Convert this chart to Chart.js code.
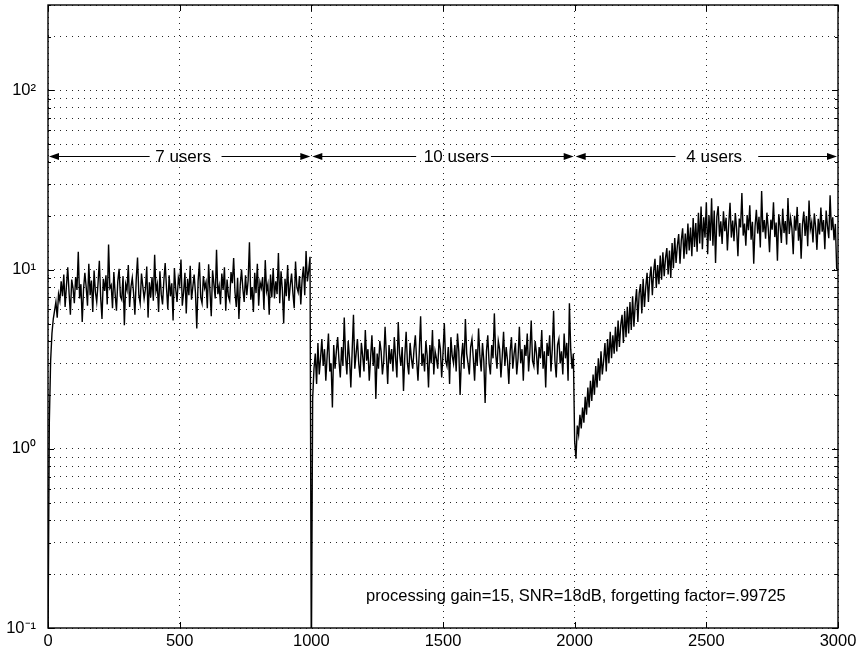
<!DOCTYPE html>
<html>
<head>
<meta charset="utf-8">
<script src="https://cdn.jsdelivr.net/npm/chart.js@4/dist/chart.umd.min.js"></script>
<style>
  html, body { margin: 0; padding: 0; background: #fff; }
  #wrap { width: 862px; height: 654px; position: relative; }
</style>
</head>
<body>
<div id="wrap"><canvas id="c" width="862" height="654"></canvas></div>
<script>
// ---- data (sample spacing of 5 iterations) ----
const SAMPLE_STEP = 5;

// iterations 0..995 : 7 users
const seg7users = [
  0.08,1.4,3.1,4.4,5.3,5.9,6.6,5.4,7.3,6.7,
  8.6,7.1,9.4,6.2,8.1,10.3,7.4,5.6,8.8,7.9,
  6.5,9.1,7.7,12.6,6.9,8.3,5.1,7.8,9.6,8.0,
  6.3,10.8,7.2,8.7,5.8,9.9,7.5,6.6,8.4,11.2,
  7.0,5.3,8.9,7.6,9.3,6.4,13.8,7.9,8.2,6.1,
  9.7,7.3,5.9,8.6,10.1,7.1,6.8,9.2,4.9,8.3,
  7.7,10.6,6.2,8.0,9.0,7.4,5.6,8.8,11.7,7.2,
  6.5,9.5,8.1,6.9,7.8,10.4,5.4,8.5,7.0,9.1,
  6.7,12.1,7.6,8.3,5.8,9.8,7.3,6.4,8.7,10.9,
  7.9,6.0,9.3,7.1,8.4,5.2,10.2,7.8,6.6,9.0,
  8.2,11.4,6.3,7.5,9.6,5.7,8.9,7.2,10.5,6.8,
  8.0,9.4,7.4,4.7,8.6,11.0,7.0,6.5,9.2,7.9,
  8.5,6.1,10.7,7.6,5.5,9.9,8.3,6.9,12.9,7.3,
  8.1,6.4,9.5,7.7,10.3,5.9,8.8,7.1,6.7,9.7,
  8.4,11.6,7.5,6.2,9.0,5.3,8.2,10.0,7.8,6.6,
  9.3,7.2,8.7,14.2,6.8,8.0,5.8,9.6,7.4,10.8,
  6.3,8.5,7.9,9.1,6.0,11.3,7.6,8.3,5.6,9.4,
  7.0,10.2,6.9,8.6,7.3,12.4,6.5,9.8,7.7,5.0,
  8.9,7.1,10.6,6.7,8.2,9.5,7.4,6.1,11.1,8.0,
  7.5,9.2,6.4,8.8,10.4,7.2,12.7,8.6,9.9,11.8
];

// iterations 1000..1995 : 10 users
const seg10users = [
  0.06,1.9,2.8,3.4,2.3,3.9,2.6,3.2,4.1,2.9,
  3.6,2.4,3.3,4.4,2.7,3.0,1.7,3.8,2.8,3.5,
  4.2,3.1,2.5,3.7,2.9,5.4,3.3,2.6,4.0,3.2,
  2.2,3.5,5.6,2.8,3.4,4.1,3.0,2.5,3.9,3.3,
  2.7,4.6,3.1,3.6,2.4,3.2,4.3,2.9,3.7,1.9,
  3.4,2.8,4.0,3.5,2.6,3.1,4.8,3.3,2.3,3.8,
  3.0,3.6,2.7,4.2,3.2,2.5,5.1,3.4,2.9,3.7,
  2.1,3.3,4.5,3.0,2.6,3.9,3.2,2.8,3.6,4.3,
  3.1,2.4,3.5,5.5,2.9,3.4,2.7,4.0,3.3,2.2,
  3.8,3.0,4.6,2.6,3.5,3.2,2.8,4.1,3.6,2.5,
  3.4,5.0,3.1,2.9,3.7,2.3,4.2,3.3,3.0,3.8,
  2.7,4.4,3.5,2.0,3.2,3.9,2.8,5.3,3.4,3.0,
  2.6,3.7,4.1,3.2,2.4,3.6,2.9,4.7,3.3,2.7,
  3.9,3.1,1.8,3.5,4.3,3.0,2.6,3.8,3.2,5.7,
  3.4,2.8,4.0,3.6,2.5,3.3,4.5,2.9,3.7,3.1,
  2.3,3.5,4.2,2.8,3.4,3.9,2.6,3.2,4.8,3.0,
  3.6,2.4,3.8,3.3,4.4,2.7,3.5,5.2,3.1,2.9,
  4.0,3.4,2.6,3.7,3.2,4.6,2.8,3.5,2.2,3.9,
  3.3,4.3,2.7,3.6,5.9,3.1,2.5,3.8,4.1,3.0,
  3.5,2.6,4.4,3.2,3.9,2.4,6.5,3.6,2.8,3.4
];

// iterations 2000..3000 : 4 users
const seg4users = [
  1.1,0.88,1.35,1.2,1.55,1.3,1.7,1.4,1.95,1.55,
  2.2,1.7,2.4,1.85,2.6,2.0,2.9,2.2,3.2,2.4,
  3.5,2.6,3.1,3.9,2.7,4.1,3.0,4.5,3.2,4.3,
  3.4,4.8,3.5,5.2,3.7,4.9,5.6,3.9,5.9,4.2,
  6.2,4.4,6.6,4.6,7.1,4.8,6.4,7.8,5.1,7.4,
  8.3,5.7,8.9,6.2,8.0,9.6,6.6,9.0,10.4,7.2,
  9.8,11.5,7.9,10.6,8.3,12.0,8.8,12.5,9.2,11.6,
  13.2,9.4,12.8,9.0,14.1,10.2,15.0,10.9,13.6,15.8,
  10.8,14.6,17.0,11.5,15.9,12.2,18.1,12.8,17.2,11.9,
  19.4,13.4,18.2,12.6,20.8,14.0,22.5,13.0,19.6,15.1,
  23.8,12.2,20.1,14.5,25.0,13.6,21.4,10.9,19.8,22.6,
  15.3,18.6,13.9,21.2,16.4,19.5,12.8,17.9,23.6,15.1,
  18.8,14.4,20.7,16.9,11.9,19.3,17.2,26.8,15.5,18.1,
  13.6,20.2,16.6,22.9,14.7,18.5,10.8,17.4,21.6,15.9,
  19.7,13.3,27.5,16.2,18.9,14.9,20.8,17.1,12.5,19.0,
  16.7,23.8,15.2,18.3,11.2,20.4,17.6,14.1,21.9,16.0,
  18.7,13.8,25.1,15.8,19.4,17.0,12.2,20.0,16.5,22.4,
  14.5,18.2,11.5,17.8,21.1,15.4,19.9,13.5,24.3,16.8,
  18.4,14.2,20.6,17.3,12.9,19.2,15.7,22.2,16.3,18.9,
  13.0,21.4,17.5,15.0,26.0,16.6,19.6,14.6,18.0,10.1,
  10.0
];

// tick values / labels
const X_TICKS = [0, 500, 1000, 1500, 2000, 2500, 3000];
const Y_TICKS = [
  0.1,0.2,0.3,0.4,0.5,0.6,0.7,0.8,0.9,
  1,2,3,4,5,6,7,8,9,
  10,20,30,40,50,60,70,80,90,
  100,200,300
];
const Y_DECADES = [0.1, 1, 10, 100];
const Y_DECADE_LABELS = ['10\u207B\u00B9', '10\u2070', '10\u00B9', '10\u00B2'];

// annotations (iteration units / y value)
const SPAN_STARTS = [0, 1000, 2000];
const SPAN_ENDS = [1000, 2000, 3000];
const SPAN_LABELS = ['7 users', '10 users', '4 users'];
const SPAN_LABEL_X = [513, 1551, 2530];
const SPAN_LEFT_LINE_END = [386, 1398, 2383];
const SPAN_RIGHT_LINE_START = [659, 1682, 2697];
const SPAN_Y = 43;
const NOTE_TEXT = 'processing gain=15, SNR=18dB, forgetting factor=.99725';
const NOTE_X = 1208;
const NOTE_Y = 0.15;

// ---- build dataset ----
const allValues = seg7users.concat(seg10users, seg4users);
const points = allValues.map((v, i) => ({ x: i * SAMPLE_STEP, y: v }));

const FONT = "'Liberation Sans', Arial, Helvetica, sans-serif";

function isDecade(v) {
  return Y_DECADES.some(d => Math.abs(d - v) / d < 1e-6);
}

const boxPlugin = {
  id: 'boxAndNotes',
  afterDatasetsDraw(chart) {
    const { ctx, chartArea: a, scales: { x, y } } = chart;
    ctx.save();
    ctx.strokeStyle = '#000';
    // inside ticks
    ctx.lineWidth = 1;
    ctx.beginPath();
    X_TICKS.forEach(v => {
      const px = Math.round(x.getPixelForValue(v)) + 0.5;
      ctx.moveTo(px, a.bottom); ctx.lineTo(px, a.bottom - 6);
      ctx.moveTo(px, a.top); ctx.lineTo(px, a.top + 6);
    });
    Y_TICKS.forEach(v => {
      const py = Math.round(y.getPixelForValue(v)) + 0.5;
      const L = isDecade(v) ? 6 : 3;
      ctx.moveTo(a.left, py); ctx.lineTo(a.left + L, py);
      ctx.moveTo(a.right, py); ctx.lineTo(a.right - L, py);
    });
    ctx.stroke();
    // box
    ctx.lineWidth = 1.4;
    ctx.strokeRect(a.left, a.top, a.right - a.left, a.bottom - a.top);

    // span arrows
    ctx.fillStyle = '#000';
    ctx.lineWidth = 1;
    const head = (tip, py, dir) => {
      ctx.beginPath();
      ctx.moveTo(tip, py);
      ctx.lineTo(tip - dir * 10, py - 3.5);
      ctx.lineTo(tip - dir * 10, py + 3.5);
      ctx.closePath();
      ctx.fill();
    };
    const py = Math.round(y.getPixelForValue(SPAN_Y)) + 0.5;
    ctx.font = '17px ' + FONT;
    ctx.textAlign = 'center';
    ctx.textBaseline = 'middle';
    SPAN_LABELS.forEach((lab, i) => {
      const x0 = x.getPixelForValue(SPAN_STARTS[i]) + 1;
      const x1 = x.getPixelForValue(SPAN_ENDS[i]) - 1;
      const le = x.getPixelForValue(SPAN_LEFT_LINE_END[i]);
      const rs = x.getPixelForValue(SPAN_RIGHT_LINE_START[i]);
      ctx.beginPath();
      ctx.moveTo(x0 + 8, py); ctx.lineTo(le, py);
      ctx.moveTo(rs, py); ctx.lineTo(x1 - 8, py);
      ctx.stroke();
      head(x0, py, -1);
      head(x1, py, 1);
      ctx.fillText(lab, x.getPixelForValue(SPAN_LABEL_X[i]), py + 1);
    });

    // note
    ctx.textAlign = 'left';
    ctx.font = '16.5px ' + FONT;
    ctx.fillText(NOTE_TEXT, x.getPixelForValue(NOTE_X), y.getPixelForValue(NOTE_Y));
    ctx.restore();
  }
};

new Chart(document.getElementById('c'), {
  type: 'line',
  data: {
    datasets: [{
      data: points,
      borderColor: '#000',
      borderWidth: 1.4,
      pointRadius: 0,
      tension: 0,
      fill: false
    }]
  },
  options: {
    responsive: false,
    animation: false,
    parsing: false,
    normalized: true,
    layout: { padding: { top: 5, right: 24, bottom: 0, left: 0 } },
    plugins: { legend: { display: false }, tooltip: { enabled: false } },
    scales: {
      x: {
        type: 'linear',
        min: 0,
        max: 3000,
        afterBuildTicks: s => { s.ticks = X_TICKS.map(v => ({ value: v })); },
        afterFit: s => { s.height = 26; s.paddingLeft = 0; s.paddingRight = 0; },
        ticks: {
          autoSkip: false,
          maxRotation: 0,
          padding: 4,
          color: '#000',
          font: { family: FONT, size: 16.5 },
          callback: v => String(v)
        },
        grid: { color: 'rgba(0,0,0,0.85)', lineWidth: 1, drawTicks: false },
        border: { display: false, dash: [1, 5] }
      },
      y: {
        type: 'logarithmic',
        min: 0.1,
        max: 300,
        afterBuildTicks: s => { s.ticks = Y_TICKS.map(v => ({ value: v, major: isDecade(v) })); },
        afterFit: s => { s.width = 48; s.paddingTop = 0; s.paddingBottom = 0; },
        ticks: {
          autoSkip: false,
          padding: 12,
          color: '#000',
          font: { family: FONT, size: 16.5 },
          callback: v => {
            const k = Y_DECADES.findIndex(d => Math.abs(d - v) / d < 1e-6);
            return k >= 0 ? Y_DECADE_LABELS[k] : '';
          }
        },
        grid: { color: 'rgba(0,0,0,0.85)', lineWidth: 1, drawTicks: false },
        border: { display: false, dash: [1, 5] }
      }
    }
  },
  plugins: [boxPlugin]
});
</script>
</body>
</html>
